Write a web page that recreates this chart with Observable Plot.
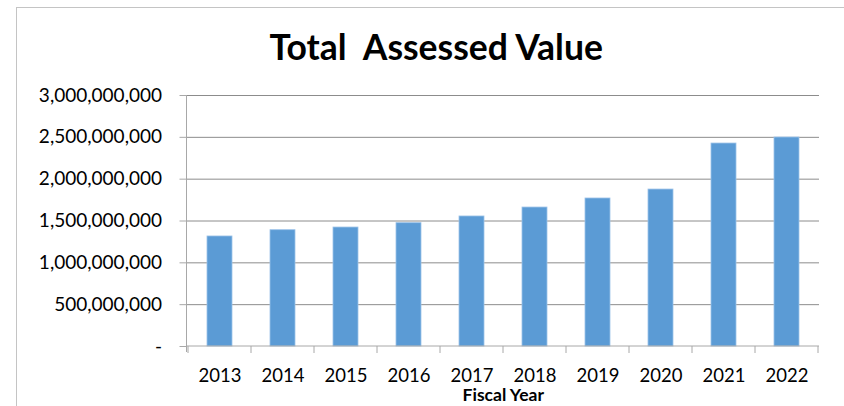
<!DOCTYPE html>
<html>
<head>
<meta charset="utf-8">
<script src="https://cdn.jsdelivr.net/npm/d3@7"></script>
<script src="https://cdn.jsdelivr.net/npm/@observablehq/plot@0.6"></script>
<style>
  html, body { margin: 0; padding: 0; background: #fff; overflow: hidden; }
  #wrap { position: relative; width: 844px; height: 406px; overflow: hidden; }
  #box { position: absolute; left: 16px; top: 7px; width: 900px; height: 500px; border: 1px solid #c4c4c4; box-sizing: border-box; }
  #chart { position: absolute; left: 0; top: 0; }
</style>
</head>
<body>
<div id="wrap"><div id="box"></div><div id="chart"></div></div>
<script>
const years = ["2013","2014","2015","2016","2017","2018","2019","2020","2021","2022"];
const assessedValues = [1315000000, 1390000000, 1422000000, 1474000000, 1554000000, 1661000000, 1769000000, 1876000000, 2426000000, 2498000000];
const yTicks = [0, 500000000, 1000000000, 1500000000, 2000000000, 2500000000, 3000000000];
const titleText = "Total\u00a0 Assessed Value";
const xLabel = "Fiscal Year";

const data = years.map((y, i) => ({year: y, value: assessedValues[i]}));
const fmt = d3.format(",");

function bandFrame(index, scales, values, dimensions) {
  const x = scales.x;
  const step = x.step(), bw = x.bandwidth();
  const {width, height, marginLeft, marginRight, marginTop, marginBottom} = dimensions;
  const y0 = height - marginBottom;
  const g = d3.create("svg:g").attr("stroke", "#a8a8a8").attr("stroke-width", 1).attr("fill", "none");
  const edges = years.map(yr => x(yr) - (step - bw) / 2);
  edges.push(x(years[years.length - 1]) + bw + (step - bw) / 2);
  for (const e of edges) {
    g.append("line").attr("x1", e).attr("x2", e).attr("y1", y0).attr("y2", y0 + 7);
  }
  g.append("line").attr("x1", marginLeft).attr("x2", marginLeft).attr("y1", marginTop).attr("y2", y0 + 6);
  g.append("line").attr("x1", marginLeft).attr("x2", width - marginRight).attr("y1", y0).attr("y2", y0);
  return g.node();
}

const plot = Plot.plot({
  width: 844,
  height: 406,
  marginLeft: 186.5,
  marginRight: 25,
  marginTop: 95,
  marginBottom: 60,
  style: {fontFamily: "Lato, 'Open Sans', sans-serif", fontSize: "18px", color: "#000", background: "transparent", overflow: "visible"},
  x: {type: "band", domain: years, paddingInner: 0.6, paddingOuter: 0.3, label: null},
  y: {domain: [0, 3000000000], label: null},
  marks: [
    Plot.gridY(yTicks.filter(d => d > 0), {stroke: "#8c8c8c", strokeOpacity: 1, strokeWidth: 1}),
    Plot.barY(data, {x: "year", y: "value", fill: "#5b9bd5", stroke: "#9cc2e8", strokeWidth: 0.8}),
    bandFrame,
    Plot.axisY({ticks: yTicks, tickSize: 7, tickPadding: 18, stroke: "#a8a8a8", fontSize: 19, tickFormat: d => d === 0 ? "-" : fmt(d), label: null}),
    Plot.axisX({tickSize: 0, tickPadding: 22.5, fontSize: 18.5, label: null}),
    Plot.text([xLabel], {frameAnchor: "bottom", lineAnchor: "bottom", dy: 54, fontWeight: "bold", fontSize: 17.5}),
    Plot.text([titleText], {frameAnchor: "top", lineAnchor: "bottom", dy: -36, dx: -67, fontWeight: "bold", fontSize: 35.5})
  ]
});
document.getElementById("chart").appendChild(plot);
</script>
</body>
</html>
